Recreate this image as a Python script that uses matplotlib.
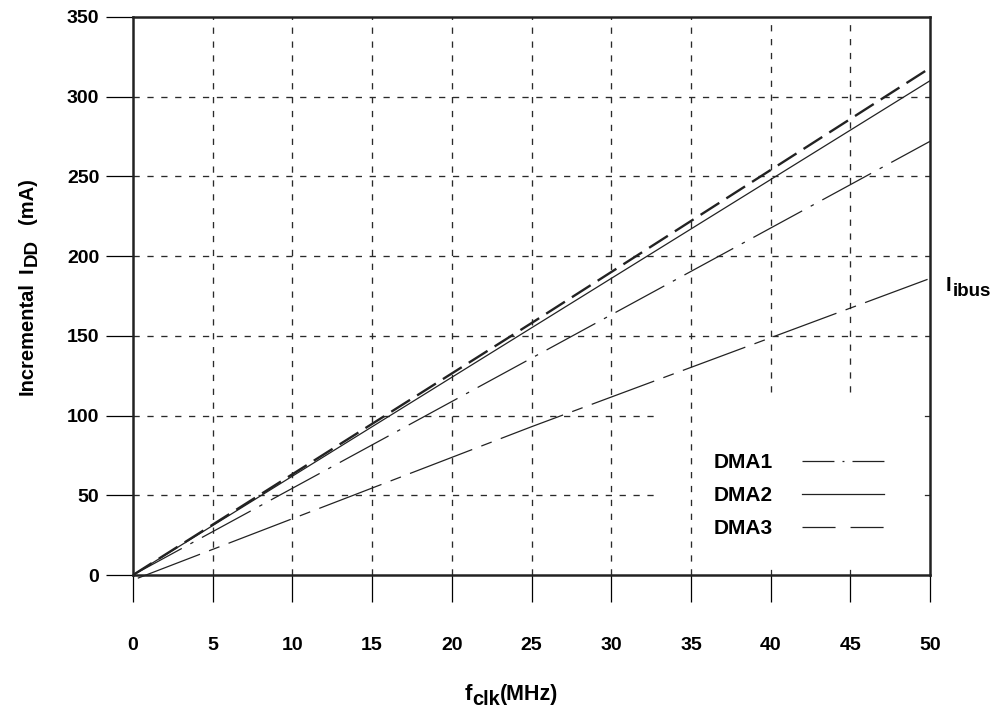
import matplotlib
matplotlib.use("Agg")
import matplotlib.pyplot as plt
from matplotlib.lines import Line2D
from matplotlib.transforms import IdentityTransform

# Data
x_dma = [0, 25, 50]
dma1 = [0, 136, 272]
dma2 = [0, 155, 310]
dma3 = [0, 158, 318]
x_ibus = [0.3, 25, 50]
ibus = [-2, 93, 186]

x_ticks = [0, 5, 10, 15, 20, 25, 30, 35, 40, 45, 50]
y_ticks = [0, 50, 100, 150, 200, 250, 300, 350]
legend_labels = ['DMA1', 'DMA2', 'DMA3']

plt.rcParams['font.family'] = ['Liberation Sans', 'DejaVu Sans']
plt.rcParams['font.weight'] = 'bold'
plt.rcParams['lines.scale_dashes'] = False

W, H = 1000, 707
fig = plt.figure(figsize=(10, 7.07), dpi=100)
ax = fig.add_axes([0.133, 0.1867, 0.797, 0.7893])
renderer = fig.canvas.get_renderer()
ink = '#222222'

# grid, drawn by hand because parts are left out around the legend
grid_kw = dict(color='#2a2a2a', lw=0.95, dashes=(4.5, 5.5), zorder=1)
for xv in x_ticks[1:-1]:
    if xv in (40, 45):
        ax.plot([xv, xv], [115, 350], **grid_kw)
        ax.plot([xv, xv], [0, 3], color='#2a2a2a', lw=0.9, zorder=1)
    else:
        ax.plot([xv, xv], [0, 350], **grid_kw)
for yv in y_ticks[1:-1]:
    if yv in (50, 100):
        ax.plot([0, 33], [yv, yv], **grid_kw)
        ax.plot([49.7, 50], [yv, yv], color='#2a2a2a', lw=0.9, zorder=1)
    else:
        ax.plot([0, 50], [yv, yv], **grid_kw)

ax.plot(x_dma, dma3, color=ink, lw=1.7, dashes=(16, 6), zorder=3)
ax.plot(x_dma, dma2, color=ink, lw=0.9, zorder=3)
ax.plot(x_dma, dma1, color=ink, lw=0.9, dashes=(40, 7, 2.5, 7), zorder=3)
ax.plot(x_ibus, ibus, color=ink, lw=0.9, dashes=(48, 7, 8, 7),
        zorder=3, clip_on=False)

handles = [
    Line2D([], [], color=ink, lw=0.9, dashes=(23, 5.8, 1.4, 5.8)),
    Line2D([], [], color=ink, lw=0.9),
    Line2D([], [], color=ink, lw=0.9, dashes=(23.8, 10.8)),
]
ax.legend(handles, legend_labels, loc='upper left',
          bbox_to_anchor=(36.4, 76.5), bbox_transform=ax.transData,
          frameon=False, markerfirst=False, fontsize=15,
          handlelength=3.94, handletextpad=1.4, labelspacing=0.67,
          borderpad=0, borderaxespad=0)

ax.set_xlim(0, 50)
ax.set_ylim(0, 350)
ax.set_xticks(x_ticks)
ax.set_yticks(y_ticks)
ax.tick_params(axis='x', direction='out', length=19.3, width=0.9, pad=25,
               labelsize=14)
ax.tick_params(axis='y', direction='out', length=19.3, width=0.9, pad=5,
               labelsize=14)
for s in ax.spines.values():
    s.set_linewidth(1.8)
    s.set_color(ink)


def chain(parts, x, y, rotation=0):
    # parts: (text, fontsize, drop in px, gap before in px); x, y in image px
    y = H - y
    for s, fs, drop, gap in parts:
        if rotation == 0:
            x += gap
            t = fig.text(x, y - drop, s, fontsize=fs, ha='left', va='baseline',
                         transform=IdentityTransform())
            x = t.get_window_extent(renderer).x1
        else:
            y += gap
            t = fig.text(x + drop, y, s, fontsize=fs, rotation=90,
                         rotation_mode='anchor', ha='left', va='baseline',
                         transform=IdentityTransform())
            y = t.get_window_extent(renderer).y1


chain([('f', 16, 0, 0), ('clk', 14.5, 5, 0), ('(MHz)', 15.5, 0, 0)],
      465, 700)
chain([('Incremental', 14.5, 0, 0), ('I', 14.5, 0, 9),
       ('DD', 13.5, 3.5, 1), ('(mA)', 14.5, 0, 15)], 33, 395, rotation=90)
chain([('I', 14.5, 0, 0), ('ibus', 13.5, 5, 1)], 946, 291)

fig.savefig('out.png', dpi=100)
